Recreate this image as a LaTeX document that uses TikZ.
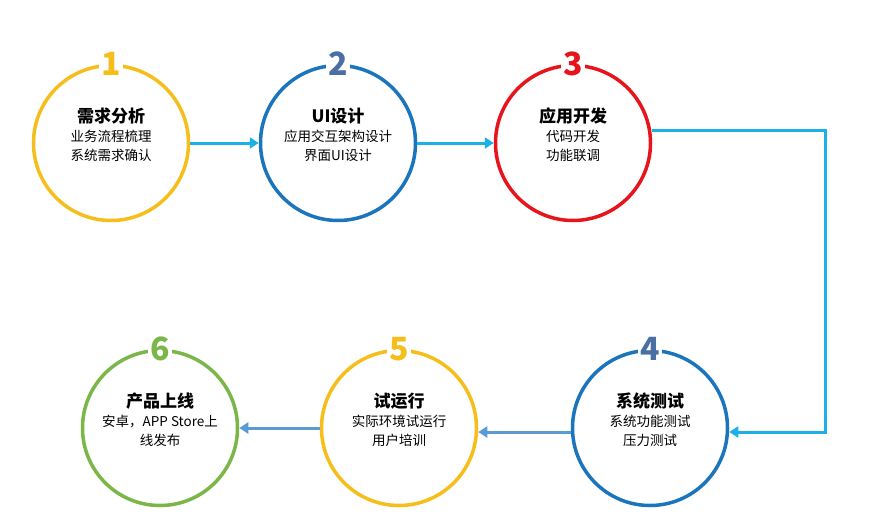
\documentclass[tikz,border=0pt]{standalone}
\usepackage{fontspec}
\setmainfont{Noto Sans CJK SC}
\usetikzlibrary{arrows.meta}
\definecolor{cy}{HTML}{F5BE1A}
\definecolor{cb}{HTML}{1B75BC}
\definecolor{cr}{HTML}{E8141B}
\definecolor{cg}{HTML}{7AB648}
\definecolor{nb}{HTML}{4A6FA5}
\definecolor{la}{HTML}{1CB0E8}
\definecolor{sa}{HTML}{5B9BD5}
\tikzset{
  stage/.style={circle, draw=#1, line width=3.5pt, minimum size=155pt, inner sep=0pt},
  txt/.style={align=center, font=\fontsize{13.5}{19}\selectfont, yshift=8pt},
  num/.style={fill=white, inner sep=2pt, text=#1, font=\fontsize{32}{32}\selectfont\bfseries},
  conn/.style={draw=#1, line width=3pt, -{Triangle[length=9pt,width=11pt]}},
}
\newcommand{\ttl}[1]{{\fontsize{17}{20}\selectfont\bfseries #1}}
\begin{document}
\begin{tikzpicture}[x=1pt,y=-1pt]
\useasboundingbox (0,0) rectangle (872,522);
\node[stage=cy] (s1) at (111,143) {};
\node[stage=cb] (s2) at (338,143) {};
\node[stage=cr] (s3) at (573,143) {};
\node[stage=cb] (s4) at (650,428) {};
\node[stage=cy] (s5) at (399,428) {};
\node[stage=cg] (s6) at (160,428) {};
\node[txt] (t1) at (s1) {\ttl{需求分析}\\业务流程梳理\\系统需求确认};
\node[txt] (t2) at (s2) {\ttl{UI设计}\\应用交互架构设计\\界面UI设计};
\node[txt] (t3) at (s3) {\ttl{应用开发}\\代码开发\\功能联调};
\node[txt] (t4) at (s4) {\ttl{系统测试}\\系统功能测试\\压力测试};
\node[txt] (t5) at (s5) {\ttl{试运行}\\实际环境试运行\\用户培训};
\node[txt] (t6) at (s6) {\ttl{产品上线}\\安卓，APP Store上\\线发布};
\node[num=cy] (n1) at (s1.north) {1};
\node[num=nb] (n2) at (s2.north) {2};
\node[num=cr] (n3) at (s3.north) {3};
\node[num=nb] (n4) at (s4.north) {4};
\node[num=cy] (n5) at (s5.north) {5};
\node[num=cg] (n6) at (s6.north) {6};
\coordinate (c1) at (825,130);
\coordinate (c2) at (825,432);
\draw[conn=la] (s1.east) -- (s2.west);
\draw[conn=la] (s2.east) -- (s3.west);
\draw[conn=la] (s3.east |- c1) -- (c1) -- (c2) -- (s4.east |- c2);
\draw[conn=sa] (s4.west |- c2) -- (s5.east |- c2);
\draw[conn=sa] (s5.west) -- (s6.east);
\end{tikzpicture}
\end{document}
